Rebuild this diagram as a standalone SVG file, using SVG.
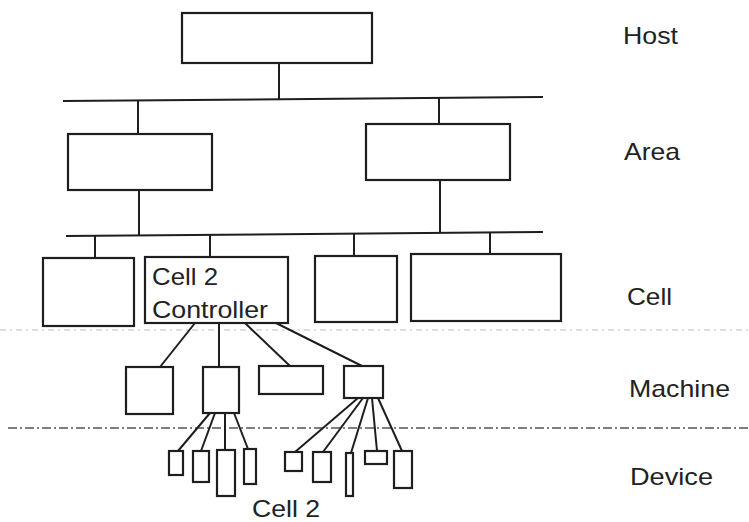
<svg xmlns="http://www.w3.org/2000/svg" width="749" height="522" viewBox="0 0 749 522">
<style>
.n{fill:#fff;stroke:#1e1e1e;stroke-width:2.2}
.c line,.c polyline{stroke:#1e1e1e;stroke-width:2;fill:none}
.t{font-family:"Liberation Sans",Arial,sans-serif;font-size:24px;fill:#222}
.sep{stroke:#555;stroke-width:1.5;stroke-dasharray:9 3 2 3;fill:none}
.sep2{stroke:#bbb;stroke-width:1.2;stroke-dasharray:6 4 2 4;fill:none}
</style>
<rect width="749" height="522" fill="#fff"/>
<line class="sep2" x1="0" y1="330" x2="749" y2="330"/>
<line class="sep" x1="8" y1="428" x2="749" y2="428"/>
<g class="c" id="connectors">
<line x1="279" y1="63" x2="279" y2="99"/>
<line x1="63" y1="101" x2="543" y2="97"/>
<line x1="138" y1="100" x2="138" y2="134"/>
<line x1="439" y1="98" x2="439" y2="124"/>
<line x1="139" y1="190" x2="139" y2="235"/>
<line x1="440" y1="180" x2="440" y2="233"/>
<line x1="66" y1="236" x2="543" y2="232"/>
<line x1="95" y1="236" x2="95" y2="258"/>
<line x1="210" y1="235" x2="210" y2="257"/>
<line x1="354" y1="234" x2="354" y2="256"/>
<line x1="490" y1="233" x2="490" y2="254"/>
<line x1="195" y1="323" x2="160" y2="367"/>
<line x1="219" y1="323" x2="219" y2="367"/>
<line x1="245" y1="323" x2="290" y2="366"/>
<line x1="276" y1="323" x2="362" y2="366"/>
<line x1="210" y1="413" x2="178" y2="451"/>
<line x1="215" y1="413" x2="201" y2="451"/>
<line x1="225" y1="413" x2="225" y2="450"/>
<line x1="234" y1="413" x2="248" y2="449"/>
<line x1="358" y1="398" x2="295" y2="452"/>
<line x1="363" y1="398" x2="323" y2="452"/>
<line x1="368" y1="398" x2="351" y2="453"/>
<line x1="372" y1="398" x2="377" y2="451"/>
<line x1="378" y1="398" x2="402" y2="451"/>
</g>
<g id="host"><rect class="n" x="182" y="13" width="190" height="50"/></g>
<g id="area1"><rect class="n" x="68" y="134" width="144" height="56"/></g>
<g id="area2"><rect class="n" x="366" y="124" width="144" height="56"/></g>
<g id="cell1"><rect class="n" x="43" y="258" width="91" height="68"/></g>
<g id="cell2"><rect class="n" x="145" y="257" width="143" height="66"/>
<text class="t" x="152" y="285" textLength="66" lengthAdjust="spacingAndGlyphs">Cell 2</text>
<text class="t" x="152" y="318" textLength="116" lengthAdjust="spacingAndGlyphs">Controller</text></g>
<g id="cell3"><rect class="n" x="315" y="256" width="82" height="66"/></g>
<g id="cell4"><rect class="n" x="411" y="254" width="150" height="67"/></g>
<g id="m1"><rect class="n" x="126" y="367" width="47" height="47"/></g>
<g id="m2"><rect class="n" x="203" y="367" width="36" height="46"/></g>
<g id="m3"><rect class="n" x="259" y="366" width="64" height="28"/></g>
<g id="m4"><rect class="n" x="344" y="366" width="39" height="32"/></g>
<g id="d1"><rect class="n" x="169" y="451" width="14" height="24"/></g>
<g id="d2"><rect class="n" x="193" y="451" width="16" height="31"/></g>
<g id="d3"><rect class="n" x="217" y="450" width="18" height="46"/></g>
<g id="d4"><rect class="n" x="244" y="449" width="12" height="35"/></g>
<g id="d5"><rect class="n" x="285" y="452" width="17" height="19"/></g>
<g id="d6"><rect class="n" x="313" y="452" width="18" height="30"/></g>
<g id="d7"><rect class="n" x="346" y="453" width="7" height="43"/></g>
<g id="d8"><rect class="n" x="365" y="451" width="22" height="13"/></g>
<g id="d9"><rect class="n" x="394" y="451" width="18" height="37"/></g>
<g id="labels">
<text class="t" x="623" y="44" textLength="55" lengthAdjust="spacingAndGlyphs">Host</text>
<text class="t" x="624" y="160" textLength="56" lengthAdjust="spacingAndGlyphs">Area</text>
<text class="t" x="627" y="305" textLength="45" lengthAdjust="spacingAndGlyphs">Cell</text>
<text class="t" x="629" y="397" textLength="101" lengthAdjust="spacingAndGlyphs">Machine</text>
<text class="t" x="630" y="485" textLength="83" lengthAdjust="spacingAndGlyphs">Device</text>
<text class="t" x="252" y="517" textLength="68" lengthAdjust="spacingAndGlyphs">Cell 2</text>
</g>
</svg>
